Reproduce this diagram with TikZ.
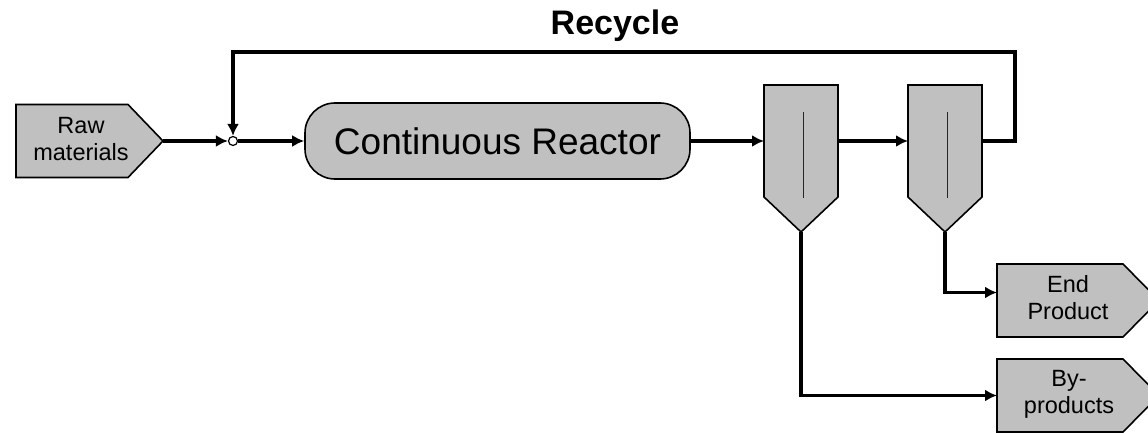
\documentclass[tikz,border=0pt]{standalone}
\usepackage{fontspec}
\setmainfont{Liberation Sans}
\usetikzlibrary{arrows.meta,calc}
\definecolor{unitgray}{RGB}{192,192,192}
\begin{document}
\begin{tikzpicture}[x=1pt,y=-1pt,
  unit/.style={draw=black, line width=1.6pt, fill=unitgray, line join=miter},
  frame/.style={inner sep=0pt, outer sep=0pt},
  flow/.style={line width=3.6pt, -{Latex[length=12pt,width=12pt]}},
  lbl/.style={font=\fontsize{23.5}{26.5}\selectfont, align=center, inner sep=0pt},
  insert/.style={line width=1pt, draw=black!85}
]
\useasboundingbox (0,0) rectangle (1148,433);
\clip (0,0) rectangle (1148,433);

% Raw materials (pentagon arrow)
\node[frame, minimum width=112pt, minimum height=73pt] (raw) at (72,141) {};
\coordinate (rawtip) at ($(raw.east)+(35,0)$);
\draw[unit] (raw.north west) -- (raw.north east) -- (rawtip) -- (raw.south east) -- (raw.south west) -- cycle;
\node[lbl] (rawtxt) at ($(raw)+(9,-2)$) {Raw\\materials};

% Junction
\node[circle, draw=black, fill=white, line width=1.2pt, inner sep=0pt, minimum size=9pt] (junc) at (233,141) {};

% Continuous reactor
\node[unit, rounded corners=30pt, minimum width=385pt, minimum height=76pt, inner sep=0pt,
      font=\fontsize{37}{40}\selectfont] (reac) at (497.5,141) {Continuous Reactor};

% Separators
\node[frame, minimum width=74pt, minimum height=112pt] (s1) at (801,141) {};
\coordinate (s1tip) at ($(s1.south)+(0,35)$);
\draw[unit] (s1.north west) -- (s1.north east) -- (s1.south east) -- (s1tip) -- (s1.south west) -- cycle;
\draw[insert] ($(s1.north)+(2,27)$) -- ($(s1.south)+(2,1)$);

\node[frame, minimum width=74pt, minimum height=112pt] (s2) at (945,141) {};
\coordinate (s2tip) at ($(s2.south)+(0,35)$);
\draw[unit] (s2.north west) -- (s2.north east) -- (s2.south east) -- (s2tip) -- (s2.south west) -- cycle;
\draw[insert] ($(s2.north)+(2,27)$) -- ($(s2.south)+(2,1)$);

% End product
\node[frame, minimum width=126pt, minimum height=73pt] (endp) at (1060,300.5) {};
\coordinate (endtip) at ($(endp.east)+(36,0)$);
\draw[unit] (endp.north west) -- (endp.north east) -- (endtip) -- (endp.south east) -- (endp.south west) -- cycle;
\node[lbl] (endtxt) at ($(endp)+(8,-3)$) {End\\Product};

% By-products
\node[frame, minimum width=126pt, minimum height=73pt] (byp) at (1060,395.5) {};
\coordinate (byptip) at ($(byp.east)+(36,0)$);
\draw[unit] (byp.north west) -- (byp.north east) -- (byptip) -- (byp.south east) -- (byp.south west) -- cycle;
\node[lbl] (byptxt) at ($(byp)+(9,-1)$) {By-\\products};

% Recycle label
\node[font=\bfseries\fontsize{34}{38}\selectfont, inner sep=0pt] (rlab) at (615,26) {Recycle};

% Connectors
\draw[flow] (rawtip) -- (junc.west);
\draw[flow] (junc.east) -- (reac.west);
\draw[flow] (reac.east) -- (s1.west);
\draw[flow] (s1.east) -- (s2.west);
\coordinate (rc) at (1015,52);
\draw[flow] (s2.east) -| (rc) -| (junc.north);
\draw[flow] (s2tip) |- ($(endp.west)+(0,-8)$);
\draw[flow] (s1tip) |- (byp.west);
\end{tikzpicture}
\end{document}
